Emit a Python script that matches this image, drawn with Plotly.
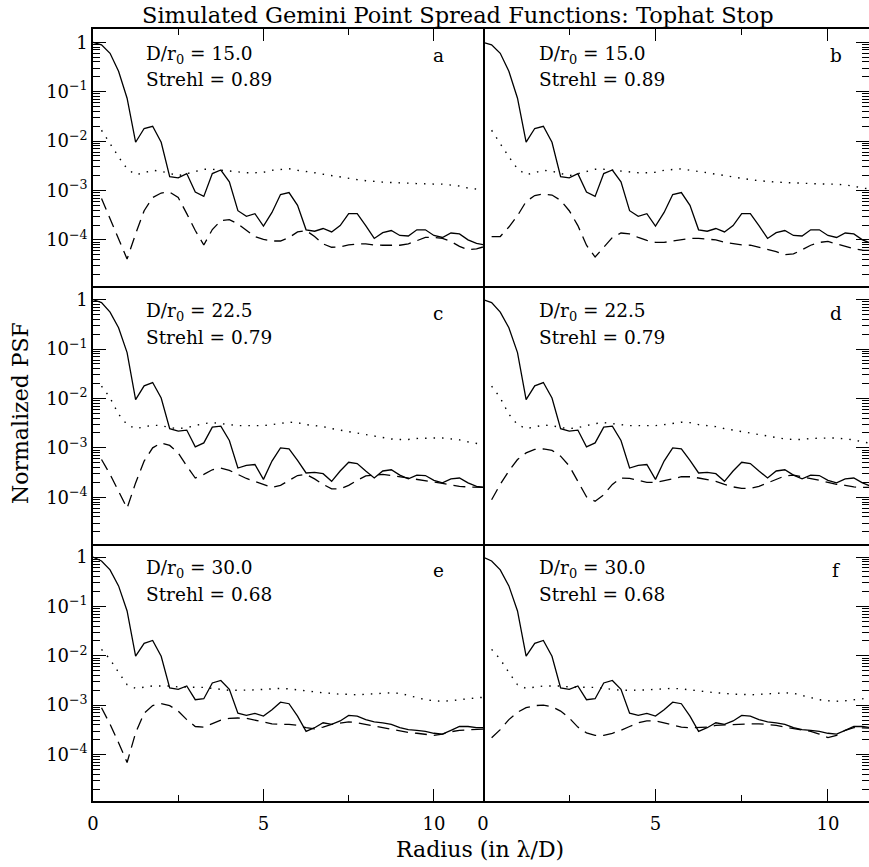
import plotly.graph_objects as go

# ---------------- data ----------------
radius = [0.0, 0.25, 0.5, 0.75, 1.0, 1.25, 1.5, 1.75, 2.0, 2.25, 2.5, 2.75, 3.0,
          3.25, 3.5, 3.75, 4.0, 4.25, 4.5, 4.75, 5.0, 5.25, 5.5, 5.75, 6.0,
          6.25, 6.5, 6.75, 7.0, 7.25, 7.5, 7.75, 8.0, 8.25, 8.5, 8.75, 9.0,
          9.25, 9.5, 9.75, 10.0, 10.25, 10.5, 10.75, 11.0, 11.25, 11.5]
radius_halo = radius[1:]

solid_row1 = [1.0, 0.89, 0.60, 0.26, 0.074, 0.0095, 0.018, 0.020, 0.0095,
              0.0019, 0.0018, 0.0022, 9.3e-4, 7.6e-4, 2.2e-3, 2.6e-3, 1.5e-3,
              3.9e-4, 3.0e-4, 3.4e-4, 1.9e-4, 3.6e-4, 8.3e-4, 9.1e-4, 5.0e-4,
              1.6e-4, 1.5e-4, 1.7e-4, 1.45e-4, 1.95e-4, 3.4e-4, 3.4e-4, 1.95e-4,
              1.07e-4, 1.4e-4, 1.55e-4, 1.23e-4, 1.2e-4, 1.6e-4, 1.6e-4, 1.23e-4,
              1.12e-4, 1.38e-4, 1.32e-4, 1.0e-4, 8.5e-5, 7.9e-5]
dotted_row1 = [0.0166, 0.0089, 0.0048, 0.00275, 0.00209, 0.00229, 0.00257, 0.00245,
               0.00224, 0.0020, 0.00219, 0.00245, 0.00269, 0.00269, 0.00257, 0.00245,
               0.00234, 0.00229, 0.00229, 0.00234, 0.00257, 0.00269, 0.00275, 0.00257,
               0.00245, 0.00229, 0.00214, 0.0020, 0.00186, 0.00174, 0.00166, 0.00158,
               0.00151, 0.00148, 0.00145, 0.00145, 0.00141, 0.00138, 0.00135, 0.00135,
               0.00135, 0.00129, 0.00123, 0.00112, 0.00107, 0.00102]
dashed_a = [6.9e-4, 2.7e-4, 1.05e-4, 4.1e-5, 1.32e-4, 3.9e-4, 7.2e-4, 8.9e-4,
            9.3e-4, 7.2e-4, 3.4e-4, 1.55e-4, 7.9e-5, 1.62e-4, 2.45e-4, 2.57e-4,
            2.1e-4, 1.55e-4, 1.17e-4, 1.02e-4, 9.5e-5, 9.5e-5, 1.12e-4, 1.45e-4,
            1.55e-4, 1.17e-4, 8.3e-5, 7.1e-5, 7.2e-5, 7.9e-5, 8.3e-5, 8.3e-5,
            7.9e-5, 7.8e-5, 7.8e-5, 7.8e-5, 8.3e-5, 9.5e-5, 1.12e-4, 1.12e-4,
            1.07e-4, 9.3e-5, 7.4e-5, 6.3e-5, 6.6e-5, 7.4e-5]
dashed_b = [1.17e-4, 1.17e-4, 1.82e-4, 3.1e-4, 6.0e-4, 7.9e-4, 8.5e-4, 8.1e-4,
            6.3e-4, 3.9e-4, 1.95e-4, 7.8e-5, 4.5e-5, 7.1e-5, 1.12e-4, 1.38e-4,
            1.32e-4, 1.12e-4, 9.8e-5, 8.9e-5, 8.9e-5, 9.5e-5, 1.02e-4, 1.07e-4,
            1.07e-4, 1.05e-4, 1.0e-4, 8.9e-5, 8.3e-5, 7.9e-5, 7.8e-5, 7.1e-5,
            6.6e-5, 5.8e-5, 5.0e-5, 5.2e-5, 6.3e-5, 7.8e-5, 8.9e-5, 9.3e-5,
            8.3e-5, 7.4e-5, 6.6e-5, 6.2e-5, 6.0e-5, 6.0e-5]

solid_row2 = [1.0, 0.87, 0.56, 0.27, 0.085, 0.0095, 0.018, 0.021, 0.0102,
              0.00245, 0.00219, 0.00229, 0.00105, 0.00126, 0.00263, 0.00275, 0.00141,
              3.9e-4, 4.4e-4, 4.6e-4, 2.3e-4, 5.4e-4, 1.0e-3, 9.5e-4, 5.6e-4,
              3.1e-4, 3.2e-4, 3.0e-4, 2.1e-4, 3.4e-4, 5.1e-4, 4.8e-4, 3.4e-4,
              2.45e-4, 3.4e-4, 3.6e-4, 2.8e-4, 2.35e-4, 2.8e-4, 2.75e-4, 2.2e-4,
              1.95e-4, 2.35e-4, 2.45e-4, 1.95e-4, 1.66e-4, 1.58e-4]
dotted_row2 = [0.0178, 0.0103, 0.0048, 0.00295, 0.00245, 0.00269, 0.00288, 0.00282,
               0.00257, 0.00245, 0.00257, 0.00282, 0.0031, 0.00324, 0.0031, 0.00295,
               0.00282, 0.00282, 0.00282, 0.00282, 0.00295, 0.0031, 0.00331, 0.00324,
               0.00295, 0.00282, 0.00269, 0.00245, 0.00229, 0.00209, 0.0020, 0.00186,
               0.00174, 0.00158, 0.00151, 0.00148, 0.00148, 0.00155, 0.00158, 0.00158,
               0.00158, 0.00151, 0.00145, 0.00132, 0.00123, 0.00115]
dashed_c = [5.8e-4, 2.9e-4, 1.32e-4, 6.0e-5, 1.95e-4, 5.4e-4, 1.0e-3, 1.26e-3,
            1.12e-3, 7.9e-4, 4.3e-4, 2.45e-4, 2.9e-4, 3.6e-4, 3.9e-4, 3.5e-4,
            2.9e-4, 2.4e-4, 2.1e-4, 1.82e-4, 1.58e-4, 1.74e-4, 2.2e-4, 2.75e-4,
            2.9e-4, 2.35e-4, 1.82e-4, 1.48e-4, 1.48e-4, 1.74e-4, 2.2e-4, 2.7e-4,
            2.8e-4, 2.9e-4, 2.75e-4, 2.6e-4, 2.45e-4, 2.35e-4, 2.2e-4, 2.04e-4,
            1.9e-4, 1.78e-4, 1.66e-4, 1.62e-4, 1.58e-4, 1.58e-4]
dashed_d = [8.9e-5, 1.82e-4, 3.4e-4, 5.8e-4, 7.9e-4, 9.3e-4, 9.5e-4, 8.9e-4,
            6.8e-4, 4.3e-4, 2.1e-4, 1.02e-4, 8.3e-5, 1.12e-4, 1.82e-4, 2.45e-4,
            2.4e-4, 2.2e-4, 2.0e-4, 2.0e-4, 2.15e-4, 2.35e-4, 2.6e-4, 2.6e-4,
            2.45e-4, 2.3e-4, 2.1e-4, 1.82e-4, 1.62e-4, 1.51e-4, 1.51e-4, 1.66e-4,
            1.95e-4, 2.35e-4, 2.7e-4, 2.8e-4, 2.6e-4, 2.35e-4, 2.2e-4, 2.0e-4,
            1.82e-4, 1.74e-4, 1.62e-4, 1.58e-4, 1.58e-4, 1.58e-4]

solid_row3 = [1.0, 0.83, 0.55, 0.26, 0.081, 0.0098, 0.0178, 0.0204, 0.0098,
              0.00224, 0.00209, 0.00245, 0.00129, 0.00135, 0.00282, 0.00316, 0.00209,
              6.9e-4, 6.2e-4, 6.8e-4, 6.0e-4, 8.1e-4, 1.15e-3, 1.07e-3, 6.0e-4,
              2.95e-4, 3.5e-4, 4.4e-4, 4.1e-4, 4.8e-4, 6.2e-4, 6.0e-4, 5.1e-4,
              4.6e-4, 4.4e-4, 4.1e-4, 3.5e-4, 3.2e-4, 3.1e-4, 2.95e-4, 2.7e-4,
              2.6e-4, 3.1e-4, 3.7e-4, 3.7e-4, 3.5e-4, 3.5e-4]
dotted_row3 = [0.0135, 0.0085, 0.0046, 0.0026, 0.00219, 0.00234, 0.00245, 0.00245,
               0.00245, 0.00234, 0.00234, 0.00234, 0.00229, 0.00219, 0.00209, 0.0020,
               0.0020, 0.0020, 0.00204, 0.00209, 0.00214, 0.00219, 0.00214, 0.00204,
               0.00191, 0.00182, 0.00178, 0.00174, 0.00166, 0.00166, 0.00162, 0.00166,
               0.0017, 0.00178, 0.00178, 0.00174, 0.00158, 0.00145, 0.00129, 0.00123,
               0.0012, 0.00123, 0.00129, 0.00138, 0.00141, 0.00145]
dashed_e = [8.9e-4, 4.1e-4, 1.74e-4, 6.9e-5, 2.75e-4, 6.9e-4, 9.8e-4, 1.07e-3,
            9.8e-4, 7.6e-4, 5.1e-4, 3.7e-4, 3.6e-4, 4.2e-4, 5.0e-4, 5.4e-4,
            5.5e-4, 5.4e-4, 5.0e-4, 4.6e-4, 4.2e-4, 4.1e-4, 4.1e-4, 3.9e-4,
            3.5e-4, 3.3e-4, 3.6e-4, 4.1e-4, 4.4e-4, 4.6e-4, 4.4e-4, 4.1e-4,
            3.7e-4, 3.5e-4, 3.2e-4, 3.0e-4, 2.8e-4, 2.7e-4, 2.6e-4, 2.45e-4,
            2.6e-4, 2.9e-4, 3.1e-4, 3.2e-4, 3.3e-4, 3.3e-4]
dashed_f = [2.2e-4, 3.2e-4, 5.1e-4, 7.2e-4, 8.9e-4, 9.8e-4, 1.0e-3, 9.3e-4,
            7.6e-4, 5.5e-4, 3.6e-4, 2.75e-4, 2.45e-4, 2.45e-4, 2.7e-4, 3.1e-4,
            3.7e-4, 4.4e-4, 4.8e-4, 4.8e-4, 4.4e-4, 4.0e-4, 3.6e-4, 3.5e-4,
            3.5e-4, 3.6e-4, 3.9e-4, 4.0e-4, 4.1e-4, 4.1e-4, 4.2e-4, 4.2e-4,
            4.1e-4, 3.9e-4, 3.6e-4, 3.4e-4, 3.2e-4, 2.95e-4, 2.6e-4, 2.2e-4,
            2.45e-4, 3.1e-4, 3.5e-4, 3.5e-4, 3.4e-4, 3.4e-4]

panel_letters = ["a", "b", "c", "d", "e", "f"]
d_over_r0 = ["15.0", "15.0", "22.5", "22.5", "30.0", "30.0"]
strehl = ["0.89", "0.89", "0.79", "0.79", "0.68", "0.68"]
solid_by_panel = [solid_row1, solid_row1, solid_row2, solid_row2, solid_row3, solid_row3]
dotted_by_panel = [dotted_row1, dotted_row1, dotted_row2, dotted_row2, dotted_row3, dotted_row3]
dashed_by_panel = [dashed_a, dashed_b, dashed_c, dashed_d, dashed_e, dashed_f]

ytick_vals = [1, 1e-1, 1e-2, 1e-3, 1e-4]
ytick_text = ["1", "10<sup>−1</sup>", "10<sup>−2</sup>", "10<sup>−3</sup>", "10<sup>−4</sup>"]
xtick_vals = [0, 5, 10]
xtick_text = ["0", "5", "10"]

# ---------------- figure ----------------
FONT = "DejaVu Serif"
W, H = 869, 867
L, R, T, B = 93, 0, 29, 66
pw = W - L - R
ph = H - T - B
split = (483 - L) / pw

fig = go.Figure()
minor_y = [m * 10.0 ** e for e in range(-5, 0) for m in range(2, 10)]

for i in range(6):
    row, col = divmod(i, 2)
    n = i + 1
    xa = "x" if n == 1 else f"x{n}"
    ya = "y" if n == 1 else f"y{n}"
    fig.add_trace(go.Scatter(x=radius, y=solid_by_panel[i], mode="lines",
                             line=dict(color="black", width=1.3),
                             xaxis=xa, yaxis=ya, showlegend=False))
    fig.add_trace(go.Scatter(x=radius_halo, y=dotted_by_panel[i], mode="lines",
                             line=dict(color="black", width=1.4, dash="1.5px,7px"),
                             xaxis=xa, yaxis=ya, showlegend=False))
    fig.add_trace(go.Scatter(x=radius_halo, y=dashed_by_panel[i], mode="lines",
                             line=dict(color="black", width=1.3, dash="12px,7px"),
                             xaxis=xa, yaxis=ya, showlegend=False))

    xdom = [0, split] if col == 0 else [split, 1]
    ydom = [[2 / 3, 1], [1 / 3, 2 / 3], [0, 1 / 3]][row]
    xrange = [0, 11.44] if col == 0 else [0, 11.19]

    xaxis = dict(domain=xdom, range=xrange, anchor=ya, showline=True, linecolor="black",
                 linewidth=1.5, showgrid=False, zeroline=False,
                 tickmode="array", tickvals=xtick_vals, ticktext=xtick_text,
                 tickfont=dict(family=FONT, size=18, color="black"))
    if row == 0:
        xaxis.update(side="top", mirror=True, ticks="inside", ticklen=12, tickwidth=1.3,
                     tickcolor="black", showticklabels=False,
                     minor=dict(ticks="inside", ticklen=6, tickwidth=1.3,
                                tickcolor="black", tickvals=[2.5, 7.5]))
    elif row == 2:
        xaxis.update(side="bottom", mirror=False, ticks="inside", ticklen=12,
                     tickwidth=1.3, tickcolor="black", showticklabels=True,
                     ticklabelstandoff=6,
                     minor=dict(ticks="inside", ticklen=6, tickwidth=1.3,
                                tickcolor="black", tickvals=[2.5, 7.5]))
    else:
        xaxis.update(side="bottom", mirror=False, ticks="", showticklabels=False)

    yaxis = dict(domain=ydom, type="log", range=[-4.94, 0.27], anchor=xa,
                 showgrid=False, zeroline=False, tickmode="array",
                 tickvals=ytick_vals, ticktext=ytick_text,
                 ticks="inside", ticklen=13, tickwidth=1.3, tickcolor="black",
                 tickfont=dict(family=FONT, size=18, color="black"),
                 minor=dict(ticks="inside", ticklen=7, tickwidth=1.1,
                            tickcolor="black", tickvals=minor_y))
    if col == 0:
        yaxis.update(side="left", showline=True, linecolor="black", linewidth=1.5,
                     mirror=True, showticklabels=True)
    else:
        yaxis.update(side="right", showline=False, showticklabels=False)

    fig.layout["xaxis" if n == 1 else f"xaxis{n}"] = xaxis
    fig.layout["yaxis" if n == 1 else f"yaxis{n}"] = yaxis

    # panel annotations
    tx = 0.131 if col == 0 else 0.139
    lx = 0.885 if col == 0 else 0.914
    common = dict(xref=f"{xa} domain", yref=f"{ya} domain", showarrow=False,
                  font=dict(family=FONT, size=18.5, color="black"))
    fig.add_annotation(text=f"D/r<sub>0</sub> = {d_over_r0[i]}", x=tx, y=0.9,
                       xanchor="left", yanchor="middle", **common)
    fig.add_annotation(text=f"Strehl = {strehl[i]}", x=tx, y=0.802,
                       xanchor="left", yanchor="middle", **common)
    fig.add_annotation(text=panel_letters[i], x=lx, y=0.896,
                       xanchor="center", yanchor="middle", **common)

fig.add_annotation(text="Simulated Gemini Point Spread Functions: Tophat Stop",
                   xref="paper", yref="paper", x=(458 - L) / pw, y=1 + (T - 15) / ph,
                   xanchor="center", yanchor="middle", showarrow=False,
                   font=dict(family=FONT, size=22.5, color="black"))
fig.add_annotation(text="Radius (in λ/D)", xref="paper", yref="paper",
                   x=(480 - L) / pw, y=-(849 - (H - B)) / ph,
                   xanchor="center", yanchor="middle", showarrow=False,
                   font=dict(family=FONT, size=22, color="black"))
fig.add_annotation(text="Normalized PSF", xref="paper", yref="paper",
                   x=(20 - L) / pw, y=((H - B) - 413) / ph, textangle=-90,
                   xanchor="center", yanchor="middle", showarrow=False,
                   font=dict(family=FONT, size=22, color="black"))

fig.update_layout(width=W, height=H, margin=dict(l=L, r=R, t=T, b=B),
                  paper_bgcolor="white", plot_bgcolor="white", showlegend=False)

fig.write_html("out.html", config={"displayModeBar": False},
               post_script="document.body.style.margin='0';"
                           "document.body.style.overflow='hidden';")
